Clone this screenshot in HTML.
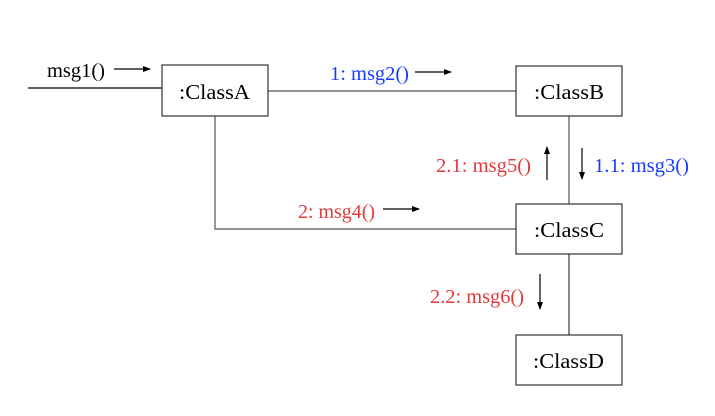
<!DOCTYPE html>
<html><head><meta charset="utf-8"><style>
html,body{margin:0;padding:0;background:#fff;}
svg text{font-family:"Liberation Serif",serif;font-size:20px;}
svg text.cls{font-size:21px;}
</style></head><body>
<svg width="715" height="411" viewBox="0 0 715 411" xmlns="http://www.w3.org/2000/svg">
<defs><marker id="ah" markerWidth="8" markerHeight="6" refX="7" refY="3" orient="auto" markerUnits="userSpaceOnUse"><path d="M0,0 L8,3 L0,6 Z" fill="#000"/></marker></defs>
<g stroke-width="1.2" fill="none">
<line x1="28" y1="88" x2="162" y2="88" stroke="#000"/>
<line x1="268" y1="91" x2="516" y2="91" stroke="#555"/>
<line x1="569" y1="116" x2="569" y2="204" stroke="#555"/>
<polyline points="215,116 215,229 516,229" stroke="#555"/>
<line x1="569" y1="254" x2="569" y2="335" stroke="#333"/>
</g>
<g fill="#fff" stroke="#333" stroke-width="1.2">
<rect x="162" y="65" width="106" height="51"/>
<rect x="516" y="66" width="106" height="50"/>
<rect x="516" y="204" width="106" height="50"/>
<rect x="516" y="335" width="106" height="50"/>
</g>
<g fill="#000">
<text class="cls" x="179" y="99" textLength="71" lengthAdjust="spacingAndGlyphs">:ClassA</text>
<text class="cls" x="534" y="99" textLength="70" lengthAdjust="spacingAndGlyphs">:ClassB</text>
<text class="cls" x="534" y="237" textLength="70" lengthAdjust="spacingAndGlyphs">:ClassC</text>
<text class="cls" x="533" y="368" textLength="71" lengthAdjust="spacingAndGlyphs">:ClassD</text>
</g>
<g stroke="#000" stroke-width="1.2" marker-end="url(#ah)">
<line x1="114" y1="69" x2="150" y2="69"/>
<line x1="415" y1="72" x2="451" y2="72"/>
<line x1="383" y1="209" x2="419" y2="209"/>
<line x1="547" y1="180" x2="547" y2="147"/>
<line x1="582" y1="148" x2="582" y2="179"/>
<line x1="540" y1="274" x2="540" y2="309"/>
</g>
<text x="47" y="77" fill="#000" textLength="58" lengthAdjust="spacingAndGlyphs">msg1()</text>
<text x="330" y="80" fill="#1a3cff" textLength="79" lengthAdjust="spacingAndGlyphs">1: msg2()</text>
<text x="594" y="172" fill="#1a3cff" textLength="95" lengthAdjust="spacingAndGlyphs">1.1: msg3()</text>
<text x="436" y="172" fill="#e03a3a" textLength="95" lengthAdjust="spacingAndGlyphs">2.1: msg5()</text>
<text x="298" y="218" fill="#e03a3a" textLength="77" lengthAdjust="spacingAndGlyphs">2: msg4()</text>
<text x="430" y="303" fill="#e03a3a" textLength="94" lengthAdjust="spacingAndGlyphs">2.2: msg6()</text>
</svg>
</body></html>
